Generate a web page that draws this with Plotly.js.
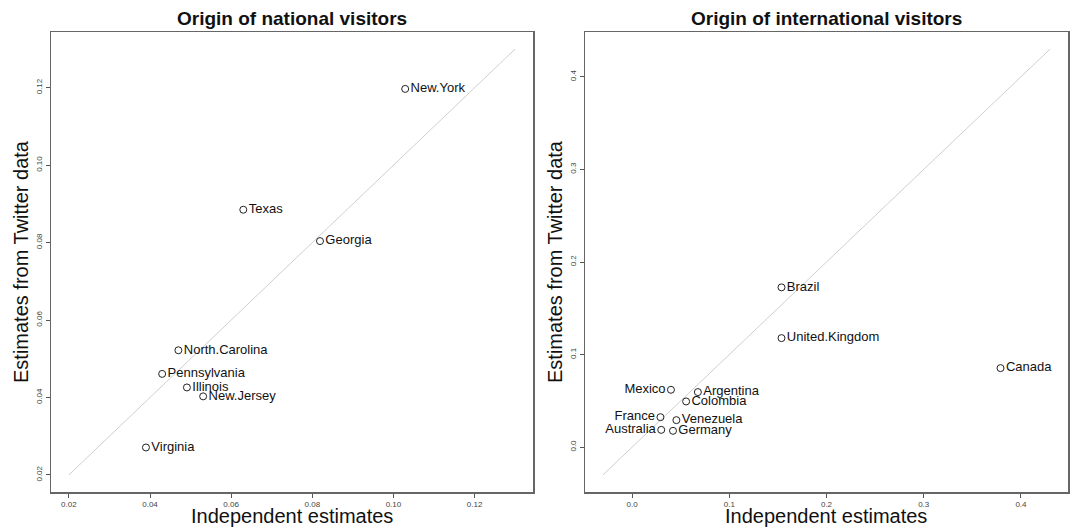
<!DOCTYPE html>
<html>
<head>
<meta charset="utf-8">
<script src="https://cdn.plot.ly/plotly-3.0.1.min.js"></script>
<style>html,body{margin:0;padding:0;background:#fff;}#chart{width:1072px;height:527px;}</style>
</head>
<body>
<div id="chart"></div>
<script>
// ---- Data: national visitors ----
const natStates = ["New.York","Texas","Georgia","North.Carolina","Pennsylvania","Illinois","New.Jersey","Virginia"];
const natIndependent = [0.1029, 0.0630, 0.0819, 0.0470, 0.0430, 0.0491, 0.0531, 0.0390];
const natTwitter = [0.1197, 0.0885, 0.0804, 0.0522, 0.0461, 0.0426, 0.0403, 0.0271];
const natLabelSide = ["right","right","right","right","right","right","right","right"];
const natDiagonal = [0.02, 0.13];
const natTicks = [0.02, 0.04, 0.06, 0.08, 0.10, 0.12];

// ---- Data: international visitors ----
const intCountries = ["Brazil","United.Kingdom","Canada","Mexico","Argentina","Colombia","France","Venezuela","Australia","Germany"];
const intIndependent = [0.1537, 0.1537, 0.3790, 0.0400, 0.0677, 0.0556, 0.0292, 0.0456, 0.0300, 0.0421];
const intTwitter = [0.1726, 0.1178, 0.0854, 0.0620, 0.0595, 0.0494, 0.0324, 0.0292, 0.0187, 0.0177];
const intLabelSide = ["right","right","right","left","right","right","left","right","left","right"];
const intDiagonal = [-0.03, 0.43];
const intTicks = [0.0, 0.1, 0.2, 0.3, 0.4];

const FONT = "Liberation Sans, Arial, sans-serif";
const W = 1072, H = 527;
const px = v => v / W;
const py = v => 1 - v / H;

function pointTraces(names, xs, ys, sides, xa, ya) {
  const groups = {right: [], left: []};
  names.forEach((n, i) => groups[sides[i]].push(i));
  return ["right", "left"].map(side => ({
    type: "scatter",
    mode: "markers+text",
    x: groups[side].map(i => xs[i]),
    y: groups[side].map(i => ys[i]),
    text: groups[side].map(i => names[i]),
    textposition: "middle " + side,
    textfont: {family: FONT, size: 13, color: "#111"},
    marker: {symbol: "circle-open", size: 7, color: "#222", line: {width: 1, color: "#222"}},
    xaxis: xa, yaxis: ya,
    hoverinfo: "skip",
    cliponaxis: false,
    showlegend: false
  }));
}

const traces = [
  {type: "scatter", mode: "lines", x: natDiagonal, y: natDiagonal, xaxis: "x", yaxis: "y",
   line: {color: "#cfcfcf", width: 1}, hoverinfo: "skip", showlegend: false},
  {type: "scatter", mode: "lines", x: intDiagonal, y: intDiagonal, xaxis: "x2", yaxis: "y2",
   line: {color: "#cfcfcf", width: 1}, hoverinfo: "skip", showlegend: false},
  ...pointTraces(natStates, natIndependent, natTwitter, natLabelSide, "x", "y"),
  ...pointTraces(intCountries, intIndependent, intTwitter, intLabelSide, "x2", "y2")
];

function axis(domain, range, ticks, fmt, anchor, isY) {
  return {
    domain: domain, range: range, anchor: anchor,
    tickvals: ticks, ticktext: ticks.map(t => t.toFixed(fmt)),
    ticks: "outside", ticklen: 4, tickwidth: 1, tickcolor: "#555",
    tickfont: {family: FONT, size: 8, color: "#444"},
    tickangle: isY ? -90 : 0,
    showline: true, mirror: true, linecolor: "#666", linewidth: 1.5,
    showgrid: false, zeroline: false, fixedrange: true
  };
}

function ann(text, x, y, size, angle) {
  return {text: text, x: px(x), y: py(y), xref: "paper", yref: "paper",
          xanchor: "center", yanchor: "middle", textangle: angle || 0,
          showarrow: false, font: {family: FONT, size: size, color: "#111"}};
}

const yDom = [(H - 492) / H, (H - 32) / H];
const layout = {
  width: W, height: H,
  margin: {l: 0, r: 0, t: 0, b: 0},
  paper_bgcolor: "#fff", plot_bgcolor: "#fff",
  font: {family: FONT},
  xaxis: axis([px(51), px(533)], [0.0156, 0.1344], natTicks, 2, "y", false),
  yaxis: axis(yDom, [0.0156, 0.1344], natTicks, 2, "x", true),
  xaxis2: axis([px(585), px(1068)], [-0.0484, 0.4484], intTicks, 1, "y2", false),
  yaxis2: axis(yDom, [-0.0484, 0.4484], intTicks, 1, "x2", true),
  annotations: [
    ann("<b>Origin of national visitors</b>", 292, 18, 19),
    ann("<b>Origin of international visitors</b>", 826, 18, 19),
    ann("Independent estimates", 292, 516, 20),
    ann("Independent estimates", 826, 516, 20),
    ann("Estimates from Twitter data", 21, 262, 20, -90),
    ann("Estimates from Twitter data", 555, 262, 20, -90)
  ]
};

Plotly.newPlot("chart", traces, layout, {displayModeBar: false, staticPlot: true});
</script>
</body>
</html>
